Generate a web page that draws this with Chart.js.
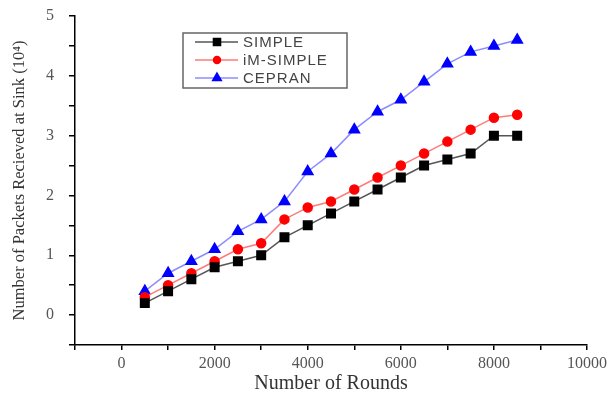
<!DOCTYPE html>
<html>
<head>
<meta charset="utf-8">
<script src="https://cdn.jsdelivr.net/npm/chart.js@4.4.1/dist/chart.umd.min.js"></script>
<style>
  html, body { margin: 0; padding: 0; background: #fff; }
</style>
</head>
<body>
<canvas id="packetsChart" width="615" height="398"></canvas>
<script>
// rounds on the x axis
const rounds = [500, 1000, 1500, 2000, 2500, 3000, 3500, 4000, 4500, 5000, 5500, 6000, 6500, 7000, 7500, 8000, 8500];

// packets received at sink (x 10^4)
const simple   = [0.2, 0.4, 0.6, 0.8, 0.9, 1.0, 1.3, 1.5, 1.7, 1.9, 2.1, 2.3, 2.5, 2.6, 2.7, 3.0, 3.0];
const imSimple = [0.3, 0.5, 0.7, 0.9, 1.1, 1.2, 1.6, 1.8, 1.9, 2.1, 2.3, 2.5, 2.7, 2.9, 3.1, 3.3, 3.35];
const cepran   = [0.4, 0.7, 0.9, 1.1, 1.4, 1.6, 1.9, 2.4, 2.7, 3.1, 3.4, 3.6, 3.9, 4.2, 4.4, 4.5, 4.6];

const seriesNames = ['SIMPLE', 'iM-SIMPLE', 'CEPRAN'];

const toPoints = vals => vals.map((v, i) => ({ x: rounds[i], y: v }));

// legend box drawn inside the plot, like the original figure
const boxLegend = {
  id: 'boxLegend',
  afterDraw(chart) {
    const ctx = chart.ctx;
    const area = chart.chartArea;
    const x0 = area.left + 108;
    const y0 = area.top + 17;
    const w = 164, h = 55;
    ctx.save();
    ctx.strokeStyle = '#666';
    ctx.lineWidth = 1.5;
    ctx.strokeRect(x0, y0, w, h);
    ctx.font = '15px "Liberation Sans", Arial, sans-serif';
    if ('letterSpacing' in ctx) ctx.letterSpacing = '1px';
    ctx.textBaseline = 'middle';
    chart.data.datasets.forEach((ds, i) => {
      const y = y0 + 9 + i * 18;
      ctx.strokeStyle = ds.borderColor;
      ctx.lineWidth = 1.5;
      ctx.beginPath();
      ctx.moveTo(x0 + 12, y);
      ctx.lineTo(x0 + 55, y);
      ctx.stroke();
      ctx.fillStyle = ds.backgroundColor;
      ctx.strokeStyle = ds.pointBorderColor;
      Chart.helpers.drawPoint(ctx, {
        pointStyle: ds.pointStyle,
        radius: ds.pointRadius - 1,
        borderWidth: 1
      }, x0 + 34, y);
      ctx.fillStyle = '#444';
      ctx.fillText(ds.label, x0 + 60, y + 1);
    });
    ctx.restore();
  }
};

const chartData = {
  datasets: [
    {
      label: seriesNames[0],
      data: toPoints(simple),
      borderColor: '#555',
      backgroundColor: '#000',
      pointBorderColor: '#000',
      pointStyle: 'rect',
      pointRadius: 6,
      borderWidth: 1.5
    },
    {
      label: seriesNames[1],
      data: toPoints(imSimple),
      borderColor: '#ff7a7a',
      backgroundColor: '#f00',
      pointBorderColor: '#f00',
      pointStyle: 'circle',
      pointRadius: 4.5,
      borderWidth: 1.5
    },
    {
      label: seriesNames[2],
      data: toPoints(cepran),
      borderColor: '#8c8cff',
      backgroundColor: '#00f',
      pointBorderColor: '#00f',
      pointStyle: 'triangle',
      pointRadius: 6,
      borderWidth: 1.5
    }
  ]
};

const tickFont = { family: '"Liberation Serif", "Times New Roman", serif', size: 16 };

const chartOptions = {
  responsive: false,
  animation: false,
  layout: { padding: { top: 16, right: 28, left: 0, bottom: 0 } },
  plugins: {
    legend: { display: false },
    tooltip: { enabled: false }
  },
  scales: {
    x: {
      type: 'linear',
      min: -1000,
      max: 10000,
      afterFit: s => { s.height = 53; s.paddingLeft = 0; s.paddingRight = 0; },
      border: { display: true, color: '#000', width: 1.5 },
      grid: { drawOnChartArea: false, drawTicks: true, tickLength: 5, color: '#000', lineWidth: 1.5 },
      ticks: {
        stepSize: 1000,
        padding: 4,
        color: '#555',
        font: tickFont,
        maxRotation: 0,
        autoSkip: false,
        callback: v => (v >= 0 && v % 2000 === 0) ? String(v) : ''
      },
      title: {
        display: true,
        text: 'Number of Rounds',
        color: '#333',
        font: { family: '"Liberation Serif", "Times New Roman", serif', size: 20 },
        padding: { top: 0, bottom: 2 }
      }
    },
    y: {
      type: 'linear',
      min: -0.5,
      max: 5,
      afterFit: s => { s.width = 75; s.paddingTop = 0; s.paddingBottom = 0; },
      border: { display: true, color: '#000', width: 1.5 },
      grid: { drawOnChartArea: false, drawTicks: true, tickLength: 6, color: '#000', lineWidth: 1.5 },
      ticks: {
        stepSize: 0.5,
        padding: 15,
        color: '#555',
        font: tickFont,
        autoSkip: false,
        callback: v => Number.isInteger(v) ? String(v) : ''
      },
      title: {
        display: true,
        text: 'Number of Packets Recieved at Sink (10\u2074)',
        color: '#333',
        font: { family: '"Liberation Serif", "Times New Roman", serif', size: 16.5 },
        padding: { top: 10, bottom: 10 }
      }
    }
  }
};

const ctx = document.getElementById('packetsChart').getContext('2d');
const chart = new Chart(ctx, {
  type: 'line',
  data: chartData,
  options: chartOptions,
  plugins: [boxLegend]
});
</script>
</body>
</html>
